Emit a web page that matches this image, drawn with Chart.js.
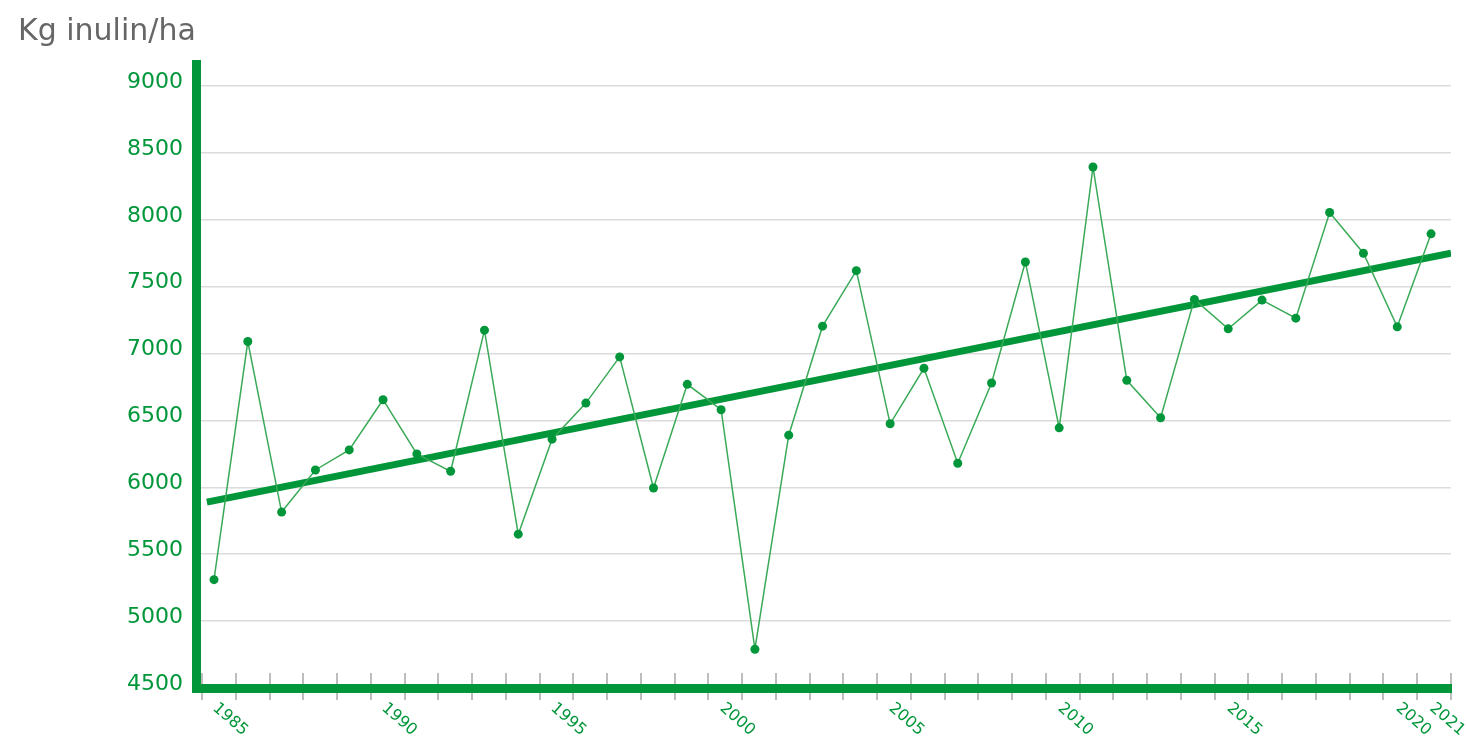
<!DOCTYPE html>
<html>
<head>
<meta charset="utf-8">
<script src="https://cdn.jsdelivr.net/npm/chart.js@4/dist/chart.umd.min.js"></script>
<style>
html, body { margin: 0; padding: 0; background: #fff; }
#wrap { width: 1466px; height: 738px; }
</style>
</head>
<body>
<div id="wrap"><canvas id="inulin_chart" width="1466" height="738"></canvas></div>
<script>
var years = [1985, 1986, 1987, 1988, 1989, 1990, 1991, 1992, 1993, 1994,
  1995, 1996, 1997, 1998, 1999, 2000, 2001, 2002, 2003, 2004,
  2005, 2006, 2007, 2008, 2009, 2010, 2011, 2012, 2013, 2014,
  2015, 2016, 2017, 2018, 2019, 2020, 2021];
var inulin = [5310, 7090, 5815, 6130, 6280, 6655, 6250, 6120, 7175, 5650,
  6360, 6630, 6975, 5995, 6770, 6580, 4790, 6390, 7205, 7620,
  6475, 6890, 6180, 6780, 7685, 6445, 8395, 6800, 6520, 7405,
  7185, 7400, 7265, 8055, 7750, 7200, 7895];
var trendYears = [1984.79, 2021.59];
var trendValues = [5890, 7751];
var labelYears = [1985, 1990, 1995, 2000, 2005, 2010, 2015, 2020, 2021];
var yTicks = [4500, 5000, 5500, 6000, 6500, 7000, 7500, 8000, 8500, 9000];

var green = '#009639';
var font = '"DejaVu Sans", Verdana, sans-serif';

// tick marks across the bottom axis + rotated year labels
var yearAxis = {
  id: 'yearAxis',
  beforeDraw: function(chart) {
    var ctx = chart.ctx, x = chart.scales.x, area = chart.chartArea;
    ctx.save();
    ctx.strokeStyle = '#bdbdbd';
    ctx.lineWidth = 2;
    x.ticks.forEach(function(t) {
      var px = Math.round(x.getPixelForValue(t.value));
      ctx.beginPath();
      ctx.moveTo(px, area.bottom - 15);
      ctx.lineTo(px, area.bottom + 12);
      ctx.stroke();
    });
    ctx.restore();
  },
  afterDraw: function(chart) {
    var ctx = chart.ctx, x = chart.scales.x, area = chart.chartArea;
    ctx.save();
    ctx.fillStyle = green;
    ctx.font = '16px ' + font;
    ctx.textAlign = 'left';
    ctx.textBaseline = 'top';
    labelYears.forEach(function(yr) {
      var px = x.getPixelForValue(yr);
      ctx.save();
      ctx.translate(px + 6, area.bottom + 12);
      ctx.rotate(41 * Math.PI / 180);
      ctx.fillText(String(yr), 0, 0);
      ctx.restore();
    });
    ctx.restore();
  }
};

var chart = new Chart(document.getElementById('inulin_chart').getContext('2d'), {
  type: 'line',
  data: {
    datasets: [{
      data: years.map(function(y, i) { return {x: y, y: inulin[i]}; }),
      borderColor: '#3aaa58',
      borderWidth: 1.5,
      pointRadius: 4.5,
      pointBackgroundColor: green,
      pointBorderWidth: 0,
      tension: 0,
      order: 0
    }, {
      data: trendYears.map(function(y, i) { return {x: y, y: trendValues[i]}; }),
      borderColor: green,
      borderWidth: 7,
      pointRadius: 0,
      tension: 0,
      order: 1
    }]
  },
  options: {
    responsive: false,
    animation: false,
    layout: { padding: { left: 18, right: 15, top: 0, bottom: 0 } },
    plugins: {
      legend: { display: false },
      tooltip: { enabled: false },
      title: {
        display: true,
        text: 'Kg inulin/ha',
        align: 'start',
        color: '#666',
        font: { family: font, size: 30, weight: 'normal' },
        padding: { top: 14.5, bottom: 14 }
      }
    },
    scales: {
      x: {
        type: 'linear',
        min: 1984.4675,
        max: 2021.59,
        afterBuildTicks: function(scale) {
          var t = [];
          for (var k = 0; k <= 37; k++) t.push({ value: 1984.645 + k * 0.9985 });
          scale.ticks = t;
        },
        afterFit: function(scale) { scale.height = 50; },
        ticks: { display: false },
        grid: { display: true, drawOnChartArea: false, drawTicks: false, color: '#bdbdbd', lineWidth: 2 },
        border: { color: green, width: 9 }
      },
      y: {
        min: 4500,
        max: 9161,
        afterBuildTicks: function(scale) {
          scale.ticks = yTicks.map(function(v) { return { value: v }; });
        },
        afterFit: function(scale) { scale.width = 178; },
        ticks: {
          color: green,
          padding: 13,
          labelOffset: -4,
          font: { family: font, size: 22 },
          callback: function(v) { return String(v); }
        },
        grid: { color: '#dcdcdc', lineWidth: 1.5, drawTicks: false },
        border: { color: green, width: 9 }
      }
    }
  },
  plugins: [yearAxis]
});
</script>
</body>
</html>
